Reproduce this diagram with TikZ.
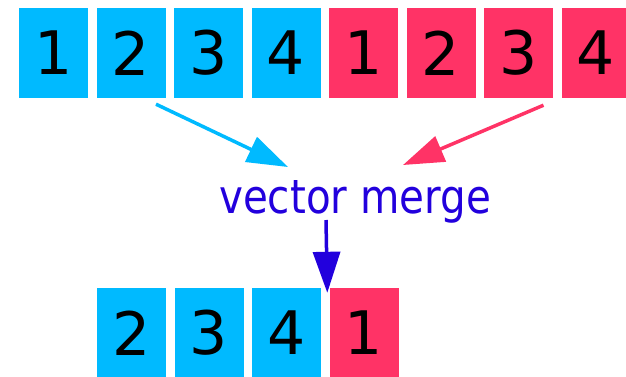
\documentclass[tikz,border=0pt]{standalone}
\usepackage{fontspec}
\usepackage{graphicx}
\setmainfont{DejaVu Sans}
\usetikzlibrary{arrows.meta}

\definecolor{laneA}{RGB}{0,186,255}
\definecolor{laneB}{RGB}{255,51,102}
\definecolor{opblue}{RGB}{34,0,221}

\tikzset{
  cell/.style={minimum width=69pt, minimum height=90pt, inner sep=0pt,
    font=\fontsize{60}{60}\selectfont, text=black},
  cellA/.style={cell, fill=laneA},
  cellB/.style={cell, fill=laneB},
  flow/.style={line width=3.5pt, -{Triangle[length=41pt,width=27pt]}},
  oplabel/.style={text=opblue, inner sep=0pt, anchor=base,
    font=\fontsize{47}{47}\selectfont},
}

\begin{document}
\begin{tikzpicture}[x=1pt, y=-1pt]
  \useasboundingbox (0,0) rectangle (626,376);

  % input vectors
  \node[cellA] (a1) at (53.5,53) {1};
  \node[cellA] (a2) at (131,53) {2};
  \node[cellA] (a3) at (208.5,53) {3};
  \node[cellA] (a4) at (286,53) {4};
  \node[cellB] (b1) at (363.5,53) {1};
  \node[cellB] (b2) at (441,53) {2};
  \node[cellB] (b3) at (518.5,53) {3};
  \node[cellB] (b4) at (596,53) {4};

  % operation label
  \node[oplabel] (op) at (355,213) {\scalebox{0.86}[1]{vector merge}};

  % merged result
  \node[cellA] (r1) at (131.5,333) {2};
  \node[cellA] (r2) at (209,333) {3};
  \node[cellA] (r3) at (286.5,333) {4};
  \node[cellB] (r4) at (364,333) {1};

  % connector ends
  \coordinate (srcA) at ([xshift=25pt,yshift=-6pt]a2.south);
  \coordinate (srcB) at ([xshift=25pt,yshift=-7pt]b3.south);
  \coordinate (dstA) at (288,167);
  \coordinate (dstB) at (403,165);
  \coordinate (opout) at (326,220);
  \coordinate (dstR) at ([xshift=-2pt,yshift=-5pt]r4.north west);

  \draw[flow, laneA] (srcA) -- (dstA);
  \draw[flow, laneB] (srcB) -- (dstB);
  \draw[flow, opblue] (opout) -- (dstR);
\end{tikzpicture}
\end{document}
